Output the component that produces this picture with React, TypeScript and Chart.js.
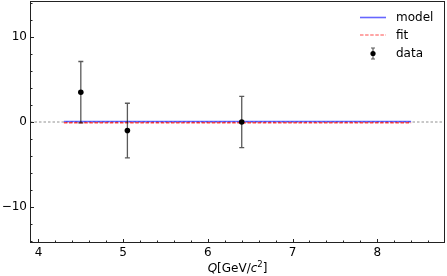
import React, { useEffect, useRef } from "react";
import { Chart, registerables } from "chart.js";

Chart.register(...registerables);

// ---- data ----
const dataX = [4.5, 5.05, 6.4];
const dataY = [3.5, -1.0, 0.0];
const dataErr = [3.6, 3.2, 3.0];
const modelX = [4.3, 8.4];
const modelY = [0, 0];
const fitX = [4.3, 8.4];
const fitY = [0, 0];
const xTicks = [4, 5, 6, 7, 8];
const yTicks = [-10, 0, 10];
const xMinor = [4.2, 4.4, 4.6, 4.8, 5.2, 5.4, 5.6, 5.8, 6.2, 6.4, 6.6, 6.8, 7.2, 7.4, 7.6, 7.8, 8.2, 8.4, 8.6];
const yMinor = [-14, -12, -8, -6, -4, -2, 2, 4, 6, 8, 12, 14];
const xRange = [3.9, 8.8];
const yRange = [-14.2, 14.2];
const legendLabels = ["model", "fit", "data"];

const FONT = "DejaVu Sans";
const BLUE = "rgba(0,0,255,0.6)";
const RED = "rgba(255,0,0,0.7)";
const ERR = "rgba(0,0,0,0.65)";

const decorPlugin = {
  id: "decor",
  beforeDatasetDraw(chart: any, args: any) {
    const { ctx } = chart;
    if (args.index === 1) {
      ctx.save();
      ctx.translate(0, 0.8);
      return;
    }
    if (args.index === 2) {
      ctx.save();
      ctx.translate(0, -0.5);
      return;
    }
    if (args.index !== 0) return;
    const xs = chart.scales.x;
    const ys = chart.scales.y;
    ctx.save();
    ctx.strokeStyle = ERR;
    ctx.lineWidth = 1.3;
    dataX.forEach((xv, i) => {
      const px = xs.getPixelForValue(xv);
      const top = ys.getPixelForValue(dataY[i] + dataErr[i]);
      const bot = ys.getPixelForValue(dataY[i] - dataErr[i]);
      ctx.beginPath();
      ctx.moveTo(px, top);
      ctx.lineTo(px, bot);
      ctx.moveTo(px - 2.5, top);
      ctx.lineTo(px + 2.5, top);
      ctx.moveTo(px - 2.5, bot);
      ctx.lineTo(px + 2.5, bot);
      ctx.stroke();
    });
    ctx.restore();
  },
  afterDatasetDraw(chart: any, args: any) {
    if (args.index === 1 || args.index === 2) chart.ctx.restore();
  },
  afterDraw(chart: any) {
    const { ctx, chartArea: a } = chart;
    const xs = chart.scales.x;
    const ys = chart.scales.y;
    ctx.save();
    // frame
    ctx.strokeStyle = "#222";
    ctx.lineWidth = 1;
    ctx.strokeRect(Math.round(a.left) + 0.5, Math.round(a.top) + 0.5, Math.round(a.right - a.left) - 1, Math.round(a.bottom - a.top) - 1);
    // ticks (inward)
    ctx.beginPath();
    const b = Math.round(a.bottom) - 0.5;
    const l = Math.round(a.left) + 0.5;
    xTicks.forEach((v) => {
      const p = Math.round(xs.getPixelForValue(v)) + 0.5;
      ctx.moveTo(p, b);
      ctx.lineTo(p, b - 3.5);
    });
    xMinor.forEach((v) => {
      const p = Math.round(xs.getPixelForValue(v)) + 0.5;
      ctx.moveTo(p, b);
      ctx.lineTo(p, b - 2);
    });
    yTicks.forEach((v) => {
      const p = Math.round(ys.getPixelForValue(v)) + 0.5;
      ctx.moveTo(l, p);
      ctx.lineTo(l + 3.5, p);
    });
    yMinor.forEach((v) => {
      const p = Math.round(ys.getPixelForValue(v)) + 0.5;
      ctx.moveTo(l, p);
      ctx.lineTo(l + 2, p);
    });
    ctx.stroke();

    // x axis title: Q[GeV/c^2]
    const parts: [string, string, number][] = [
      ["Q", "italic 12px '" + FONT + "'", 0],
      ["[GeV/", "12px '" + FONT + "'", 0],
      ["c", "italic 12px '" + FONT + "'", 0],
      ["2", "8.5px '" + FONT + "'", -5],
      ["]", "12px '" + FONT + "'", 0],
    ];
    let total = 0;
    parts.forEach(([t, f]) => {
      ctx.font = f;
      total += ctx.measureText(t).width;
    });
    let x = (a.left + a.right) / 2 - total / 2;
    const baseY = 271.5;
    ctx.fillStyle = "#000";
    ctx.textBaseline = "alphabetic";
    ctx.textAlign = "left";
    parts.forEach(([t, f, dy]) => {
      ctx.font = f;
      ctx.fillText(t, x, baseY + dy);
      x += ctx.measureText(t).width;
    });

    // legend
    const lx0 = 360;
    const lx1 = 386;
    const tx = 396;
    const rows = [17.5, 35, 53.5];
    ctx.font = "12px '" + FONT + "'";
    ctx.textBaseline = "middle";
    ctx.fillStyle = "#000";
    // model
    ctx.strokeStyle = BLUE;
    ctx.lineWidth = 1.6;
    ctx.setLineDash([]);
    ctx.beginPath();
    ctx.moveTo(lx0, rows[0]);
    ctx.lineTo(lx1, rows[0]);
    ctx.stroke();
    // fit
    ctx.strokeStyle = RED;
    ctx.lineWidth = 1.2;
    ctx.setLineDash([3.5, 1.6]);
    ctx.beginPath();
    ctx.moveTo(lx0, rows[1]);
    ctx.lineTo(lx1, rows[1]);
    ctx.stroke();
    ctx.setLineDash([]);
    // data
    const mx = (lx0 + lx1) / 2;
    ctx.strokeStyle = ERR;
    ctx.lineWidth = 1.2;
    ctx.beginPath();
    ctx.moveTo(mx, rows[2] - 5.5);
    ctx.lineTo(mx, rows[2] + 5.5);
    ctx.moveTo(mx - 2, rows[2] - 5.5);
    ctx.lineTo(mx + 2, rows[2] - 5.5);
    ctx.moveTo(mx - 2, rows[2] + 5.5);
    ctx.lineTo(mx + 2, rows[2] + 5.5);
    ctx.stroke();
    ctx.fillStyle = "#000";
    ctx.beginPath();
    ctx.arc(mx, rows[2], 2.6, 0, Math.PI * 2);
    ctx.fill();
    legendLabels.forEach((t, i) => ctx.fillText(t, tx, rows[i] + 0.5));
    ctx.restore();
  },
};

export default function App() {
  const ref = useRef<HTMLCanvasElement>(null);
  useEffect(() => {
    document.body.style.margin = "0";
    const c = ref.current;
    if (!c) return;
    const chart = new Chart(c, {
      type: "scatter",
      data: {
        datasets: [
          {
            label: "data",
            data: dataX.map((x, i) => ({ x, y: dataY[i] })),
            pointRadius: 2.8,
            pointBackgroundColor: "#000",
            pointBorderWidth: 0,
            showLine: false,
          },
          {
            label: "fit",
            data: fitX.map((x, i) => ({ x, y: fitY[i] })),
            showLine: true,
            borderColor: RED,
            borderWidth: 1.4,
            borderDash: [3.5, 1.6],
            pointRadius: 0,
          },
          {
            label: "model",
            data: modelX.map((x, i) => ({ x, y: modelY[i] })),
            showLine: true,
            borderColor: BLUE,
            borderWidth: 1.7,
            pointRadius: 0,
          },
          {
            label: "zero",
            data: xRange.map((x) => ({ x, y: 0 })),
            showLine: true,
            borderColor: "rgba(0,0,0,0.55)",
            borderWidth: 0.8,
            borderDash: [2.5, 2],
            pointRadius: 0,
          },
        ],
      },
      options: {
        responsive: false,
        animation: false,
        events: [],
        layout: { autoPadding: false, padding: { top: 1, right: 2, left: 0, bottom: 0 } },
        plugins: { legend: { display: false }, tooltip: { enabled: false } },
        scales: {
          x: {
            type: "linear",
            min: xRange[0],
            max: xRange[1],
            grid: { display: false, drawTicks: false },
            border: { display: false },
            afterBuildTicks: (s: any) => {
              s.ticks = xTicks.map((v) => ({ value: v }));
            },
            afterFit: (s: any) => {
              s.height = 33;
              s.paddingLeft = 0;
              s.paddingRight = 0;
            },
            ticks: {
              padding: 3,
              maxRotation: 0,
              color: "#000",
              font: { family: FONT, size: 12 },
              callback: (v: any) => String(v),
            },
          },
          y: {
            type: "linear",
            min: yRange[0],
            max: yRange[1],
            grid: { display: false, drawTicks: false },
            border: { display: false },
            afterBuildTicks: (s: any) => {
              s.ticks = yTicks.map((v) => ({ value: v }));
            },
            afterFit: (s: any) => {
              s.width = 30;
              s.paddingTop = 0;
              s.paddingBottom = 0;
            },
            ticks: {
              padding: 3,
              color: "#000",
              font: { family: FONT, size: 12 },
              callback: (v: any) => (Number(v) < 0 ? "\u2212" + Math.abs(Number(v)) : String(v)),
            },
          },
        },
      } as any,
      plugins: [decorPlugin],
    });
    return () => chart.destroy();
  }, []);
  return (
    <div style={{ position: "absolute", left: 0, top: 0, width: 447, height: 276, background: "#fff" }}>
      <canvas ref={ref} width={447} height={276} style={{ display: "block" }} />
    </div>
  );
}
